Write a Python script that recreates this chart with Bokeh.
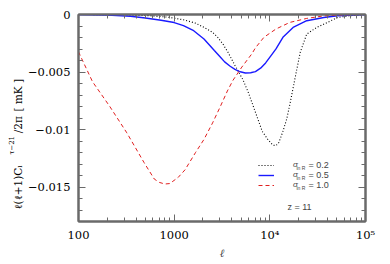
import math
from bokeh.plotting import figure
from bokeh.models import (Range1d, FixedTicker, LogAxis, LinearAxis, Label,
                          Legend, LegendItem)
from bokeh.embed import file_html
from bokeh.resources import INLINE

# ---- data ----
ell_s02 = [100, 300, 500, 860, 1250, 1670, 2050, 2520, 2850, 3250, 3650, 4320,
           5270, 5970, 7070, 8340, 9400, 10700, 11600, 12400, 13700, 15000,
           16150, 18300, 20800, 24300, 31000, 40000, 51000, 70000, 100000]
cl_s02 = [0.0, -0.00002, -0.00008, -0.00023, -0.00046, -0.00075, -0.00112,
          -0.00155, -0.00198, -0.0026, -0.00328, -0.00443, -0.00572, -0.0068,
          -0.0085, -0.01017, -0.0108, -0.01135, -0.0114, -0.01115, -0.01017,
          -0.0091, -0.00787, -0.00558, -0.00328, -0.0017, -0.00112, -0.00069,
          -0.00026, -0.0001, 0.0]

ell_s05 = [100, 200, 350, 500, 730, 1000, 1250, 1600, 2050, 2630, 3000, 3370,
           3850, 4320, 4900, 5550, 6300, 7070, 8000, 9040, 10200, 11600, 13700,
           17500, 24300, 36700, 51000, 75000, 100000]
cl_s05 = [0.0, -0.00005, -0.00015, -0.0003, -0.0005, -0.0007, -0.00097,
          -0.00141, -0.00213, -0.00313, -0.00365, -0.00412, -0.00450, -0.00477,
          -0.00498, -0.00509, -0.00507, -0.00497, -0.00467, -0.00421, -0.00362,
          -0.00299, -0.00198, -0.00112, -0.00054, -0.00026, -0.00011, -0.00004,
          0.0]

ell_s10 = [100, 140, 212, 320, 484, 620, 700, 800, 900, 1100, 1300, 1670, 2050,
           2520, 3000, 3600, 4120, 5100, 6490, 7070, 8680, 11600, 16150, 24300,
           36700, 60000, 100000]
cl_s10 = [-0.00325, -0.00584, -0.00799, -0.01029, -0.01287, -0.01431, -0.0146,
          -0.01474, -0.0147, -0.01417, -0.0135, -0.01201, -0.01086, -0.00943,
          -0.0081, -0.00665, -0.00572, -0.00457, -0.00342, -0.0029, -0.00198,
          -0.00126, -0.00069, -0.00034, -0.00012, -0.00003, 0.0]

x_ticks = [100, 1000, 10000, 100000]
x_tick_labels = ["100", "1000", "10⁴", "10⁵"]
y_ticks = [0, -0.005, -0.01, -0.015]
y_tick_labels = ["0", "−0.005", "−0.01", "−0.015"]
sigma_values = ["0.2", "0.5", "1.0"]
redshift_label = "z = 11"
ylabel_main = ["ℓ(ℓ+1)Cₗ", "/2π", "[ mK ]"]
ylabel_sup = "τ−21"

FRAME = "#6a6a6a"
SERIF = "DejaVu Serif"
SANS = "Liberation Sans"

p = figure(width=382, height=262, x_axis_type="log",
           x_range=Range1d(100, 1e5), y_range=Range1d(-0.018, 0),
           output_backend="svg", toolbar_location=None,
           min_border_left=78, min_border_right=17,
           min_border_top=14, min_border_bottom=36)
p.grid.visible = False
p.outline_line_color = FRAME
p.outline_line_width = 2
p.background_fill_color = "white"
p.border_fill_color = "white"

x_minor = [k * 10 ** d for d in (2, 3, 4) for k in range(2, 10)]
y_minor = [-i * 0.001 for i in range(0, 19)]
xt = FixedTicker(ticks=x_ticks, minor_ticks=x_minor)
yt = FixedTicker(ticks=y_ticks, minor_ticks=y_minor)


def style(ax, show_labels):
    ax.axis_line_color = FRAME
    ax.axis_line_width = 2
    ax.major_tick_line_color = FRAME
    ax.minor_tick_line_color = FRAME
    ax.major_tick_out = 0
    ax.minor_tick_out = 0
    ax.major_tick_in = 7
    ax.minor_tick_in = 4
    ax.major_tick_line_width = 1
    ax.minor_tick_line_width = 1
    if not show_labels:
        ax.major_label_text_font_size = "0px"
        ax.major_label_standoff = 0


def text_only(ax, font_size, standoff):
    ax.axis_line_color = None
    ax.major_tick_line_color = None
    ax.minor_tick_line_color = None
    ax.major_tick_in = 0
    ax.major_tick_out = 0
    ax.minor_tick_in = 0
    ax.minor_tick_out = 0
    ax.major_label_text_font = SERIF
    ax.major_label_text_font_size = font_size
    ax.major_label_text_color = "black"
    ax.major_label_standoff = standoff
    ax.major_label_orientation = math.pi / 2


xa = p.xaxis[0]
xa.ticker = xt
style(xa, True)
xa.major_label_overrides = dict(zip(x_ticks, x_tick_labels))
xa.major_label_text_font = SERIF
xa.major_label_text_font_size = "11.5px"
xa.major_label_text_color = "black"
xa.major_label_standoff = 6
xa.axis_label = "ℓ"
xa.axis_label_text_font = SERIF
xa.axis_label_text_font_style = "italic"
xa.axis_label_text_font_size = "11px"
xa.axis_label_standoff = 2

ya = p.yaxis[0]
ya.ticker = yt
style(ya, True)
ya.major_label_overrides = dict(zip(y_ticks, y_tick_labels))
ya.major_label_text_font = SERIF
ya.major_label_text_font_size = "11.5px"
ya.major_label_text_color = "black"
ya.major_label_standoff = 8

# rotated y-axis title, made of text-only axes placed at fixed heights
main_pos = [-0.0131, -0.00884, -0.0056]
sup_pos = [-0.01056]
ax_main = LinearAxis(ticker=FixedTicker(ticks=main_pos, minor_ticks=[]))
ax_main.major_label_overrides = dict(zip(main_pos, ylabel_main))
text_only(ax_main, "10.5px", 6)
p.add_layout(ax_main, "left")
ax_sup = LinearAxis(ticker=FixedTicker(ticks=sup_pos, minor_ticks=[]))
ax_sup.major_label_overrides = {sup_pos[0]: ylabel_sup}
text_only(ax_sup, "7px", -9)
p.add_layout(ax_sup, "left")

top = LogAxis(ticker=xt)
style(top, False)
top.major_label_overrides = {t: "" for t in x_ticks}
p.add_layout(top, "above")
right = LinearAxis(ticker=yt)
style(right, False)
right.major_label_overrides = {t: "" for t in y_ticks}
p.add_layout(right, "right")

r_dot = p.line(ell_s02, cl_s02, line_color="black", line_width=1.1,
               line_dash="1 2")
r_blue = p.line(ell_s05, cl_s05, line_color="#1a1aff", line_width=1.4)
r_red = p.line(ell_s10, cl_s10, line_color="#e02020", line_width=1.0,
               line_dash="4 3")

legend = Legend(items=[LegendItem(label="σ", renderers=[r]) for r in
                       (r_dot, r_blue, r_red)],
                location=(180, 32), orientation="vertical",
                glyph_width=16, glyph_height=8, label_height=8,
                label_standoff=19, spacing=1, padding=0, margin=0,
                border_line_color=None, background_fill_alpha=0,
                label_text_font=SANS,
                label_text_font_style="italic",
                label_text_font_size="8px")
p.add_layout(legend)

for i, s in enumerate(sigma_values):
    ypix = 57 - 10 * i
    p.add_layout(Label(x=218, y=ypix - 3, x_units="screen", y_units="screen",
                       text="ln R", text_font=SANS,
                       text_font_size="5px", text_baseline="middle"))
    p.add_layout(Label(x=230, y=ypix, x_units="screen", y_units="screen",
                       text="=  " + s, text_font=SANS,
                       text_font_size="9px", text_baseline="middle"))

p.add_layout(Label(x=209, y=15, x_units="screen", y_units="screen",
                   text=redshift_label, text_font=SANS,
                   text_font_size="9px", text_baseline="middle"))

open("out.html", "w").write(file_html(p, INLINE))
